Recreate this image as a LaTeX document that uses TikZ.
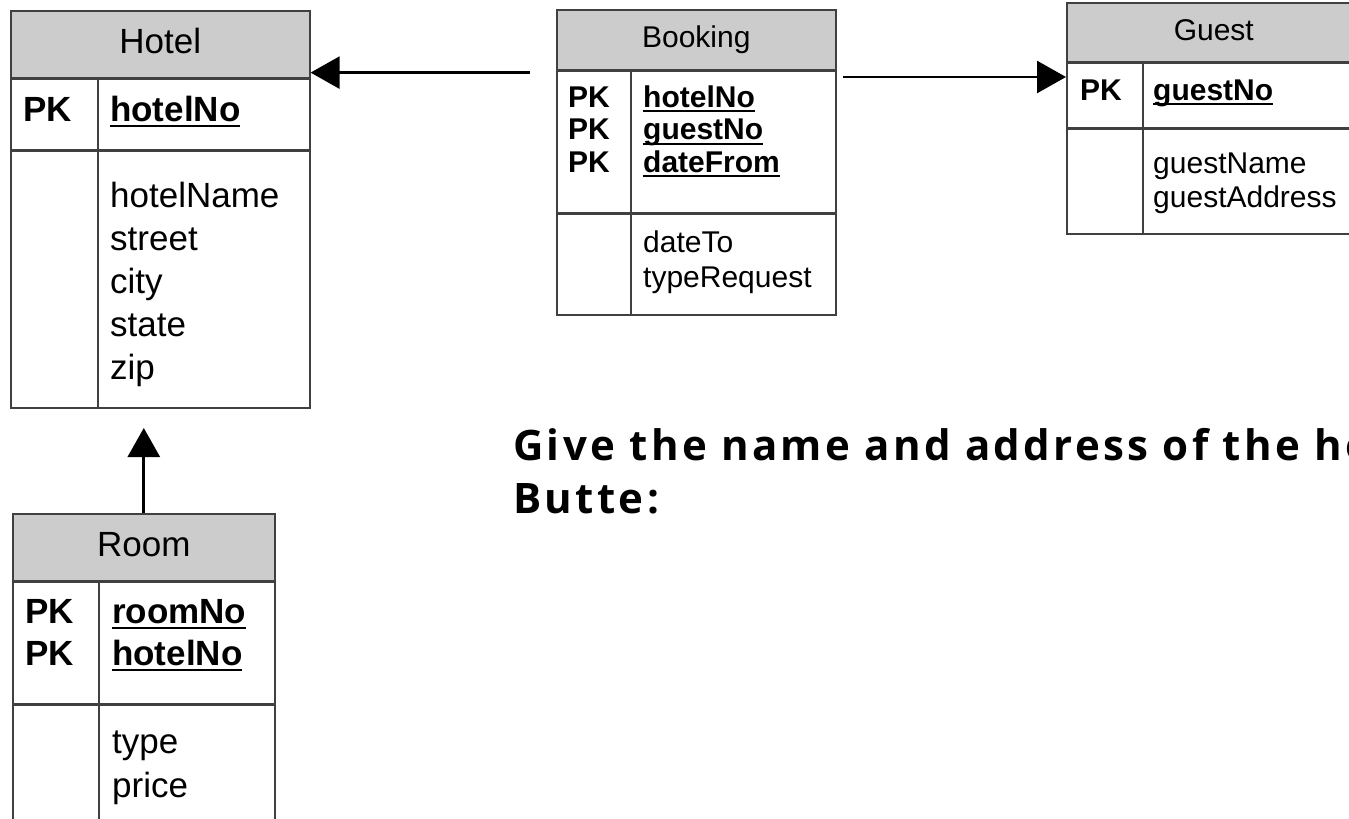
\documentclass[tikz,border=0pt]{standalone}
\usepackage{fontspec}
\setmainfont{Liberation Sans}
\newfontfamily\questfont{Open Sans}[LetterSpace=8]
\usetikzlibrary{arrows.meta,calc}
\definecolor{hdrgray}{HTML}{CCCCCC}
\definecolor{rulegray}{HTML}{404040}
\newcommand{\bigsz}{\fontsize{35}{42}\selectfont}
\newcommand{\smallsz}{\fontsize{30}{36}\selectfont}
\newcommand{\keyul}[1]{\setbox0\hbox{#1}\rlap{\rule[-0.17em]{\wd0}{0.07em}}\box0}

\tikzset{
	cell/.style = {draw=rulegray, line width=1.6pt, inner sep=0pt, anchor=north west},
	head/.style = {cell, fill=hdrgray, text depth=0pt},
	divider/.style = {draw=rulegray, line width=1.6pt},
	entry/.style = {inner sep=0pt, anchor=base west},
	fk/.style = {line width=2.7pt, -{Triangle[length=29pt,width=32pt]}},
	quest/.style = {inner sep=0pt, anchor=base west, font=\fontsize{42}{53}\questfont\bfseries}
}

\begin{document}
\begin{tikzpicture}[x=1pt, y=-1pt]
	\useasboundingbox (0,0) rectangle (1349,819);
	\clip (0,0) rectangle (1349,819);
	% Hotel
	\node[head, font=\bigsz, minimum width=299pt, minimum height=67pt, text height=19pt] (hotel) at (10,10) {Hotel};
	\node[cell, minimum width=299pt, minimum height=70pt] (hotelpk) at (hotel.south west) {};
	\node[cell, minimum width=299pt, minimum height=257pt] (hotelattr) at (hotelpk.south west) {};
	\draw[divider] ($(hotelpk.north west) + (88,0)$) -- ($(hotelattr.south west) + (88,0)$);
	\node[entry, font=\bigsz\bfseries] (hotelpkl) at (23,121) {PK};
	\node[entry, font=\bigsz\bfseries] (hotelkey) at (110,121) {\keyul{hotelNo}};
	\foreach \t [count=\i from 0] in {hotelName,street,city,state,zip}
		\node[entry, font=\bigsz] (hotela\i) at (110,207+43*\i) {\t};
	% Booking
	\node[head, font=\smallsz, minimum width=279pt, minimum height=60pt, text height=16pt] (booking) at (556,9) {Booking};
	\node[cell, minimum width=279pt, minimum height=141pt] (bookingpk) at (booking.south west) {};
	\node[cell, minimum width=279pt, minimum height=101pt] (bookingattr) at (bookingpk.south west) {};
	\draw[divider] ($(bookingpk.north west) + (75,0)$) -- ($(bookingattr.south west) + (75,0)$);
	\foreach \t [count=\i from 0] in {hotelNo,guestNo,dateFrom} {
		\node[entry, font=\smallsz\bfseries] (bookingpkl\i) at (568,107+32.5*\i) {PK};
		\node[entry, font=\smallsz\bfseries] (bookingkey\i) at (643,107+32.5*\i) {\keyul{\t}};
	}
	\foreach \t [count=\i from 0] in {dateTo,typeRequest}
		\node[entry, font=\smallsz] (bookinga\i) at (643,252+35*\i) {\t};
	% Guest
	\node[head, font=\smallsz, minimum width=294pt, minimum height=59pt, text height=16pt] (guest) at (1066,2) {Guest};
	\node[cell, minimum width=294pt, minimum height=64pt] (guestpk) at (guest.south west) {};
	\node[cell, minimum width=294pt, minimum height=105pt] (guestattr) at (guestpk.south west) {};
	\draw[divider] ($(guestpk.north west) + (77,0)$) -- ($(guestattr.south west) + (77,0)$);
	\node[entry, font=\smallsz\bfseries] (guestpkl) at (1080,100) {PK};
	\node[entry, font=\smallsz\bfseries] (guestkey) at (1153,100) {\keyul{guestNo}};
	\foreach \t [count=\i from 0] in {guestName,guestAddress}
		\node[entry, font=\smallsz] (guesta\i) at (1153,173+34*\i) {\t};
	% Room
	\node[head, font=\bigsz, minimum width=262pt, minimum height=67pt, text height=19pt] (room) at (12,513) {Room};
	\node[cell, minimum width=262pt, minimum height=121pt] (roompk) at (room.south west) {};
	\node[cell, minimum width=262pt, minimum height=140pt] (roomattr) at (roompk.south west) {};
	\draw[divider] ($(roompk.north west) + (87,0)$) -- ($(roomattr.south west) + (87,0)$);
	\foreach \t [count=\i from 0] in {roomNo,hotelNo} {
		\node[entry, font=\bigsz\bfseries] (roompkl\i) at (25,623+42*\i) {PK};
		\node[entry, font=\bigsz\bfseries] (roomkey\i) at (112,623+42*\i) {\keyul{\t}};
	}
	\foreach \t [count=\i from 0] in {type,price}
		\node[entry, font=\bigsz] (rooma\i) at (112,753+44*\i) {\t};
	% links
	\coordinate (bookleft) at (530,72.6);
	\coordinate (bookright) at (843,77);
	\coordinate (roomtip) at (143,428);
	\draw[fk] (bookleft) -- (bookleft -| hotel.east);
	\draw[fk] (bookright) -- (bookright -| guestpk.west);
	\draw[fk] (room.north) -- (room.north |- roomtip);
	% question
	\node[quest] (quest1) at (513,460) {Give the name and address of the ho};
	\node[quest] (quest2) at (513,513) {Butte:};
\end{tikzpicture}
\end{document}
